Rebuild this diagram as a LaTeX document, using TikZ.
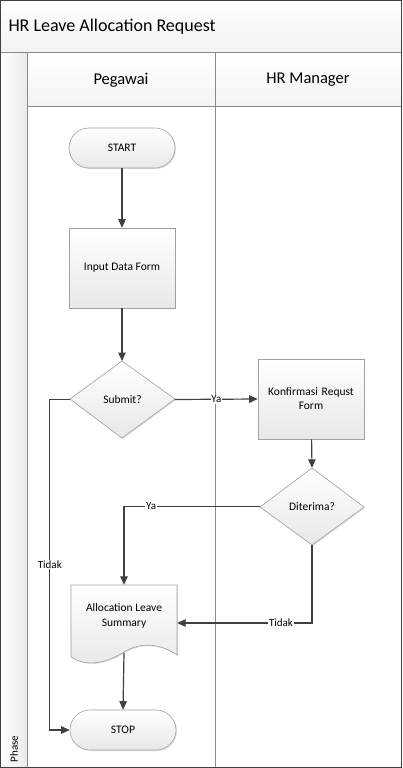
\documentclass[tikz,border=0pt]{standalone}
\usepackage{fontspec}
\setmainfont{Carlito}
\usetikzlibrary{arrows.meta,shadows}
\definecolor{lnc}{HTML}{404040}
\definecolor{lanec}{HTML}{8A8A8A}
\begin{document}
\begin{tikzpicture}[x=1pt,y=-1pt,
  nodebase/.style={draw=lanec!80, line width=0.6pt, top color=white, bottom color=gray!18,
    font=\fontsize{11.5}{14}\selectfont, align=center, inner sep=0pt,
    drop shadow={shadow xshift=1pt, shadow yshift=-1pt, opacity=0.25, fill=gray}},
  termbox/.style={nodebase, rounded corners=20pt, minimum width=106pt, minimum height=40pt},
  procbox/.style={nodebase, minimum width=106pt, minimum height=80pt},
  conn/.style={draw=lnc, line width=1.2pt, -{Triangle[length=8.5pt,width=7.5pt]}},
  lbl/.style={fill=white, inner sep=0.8pt, font=\fontsize{11}{13}\selectfont, text=black},
  hdr/.style={font=\fontsize{16.5}{19}\selectfont},
  txt/.style={font=\fontsize{11.5}{14}\selectfont, inner sep=0pt},
  lanel/.style={draw=lanec, line width=1pt}]
\useasboundingbox (0,0) rectangle (402,768);
% backgrounds
\shade[top color=white, bottom color=gray!10] (0,0) rectangle (402,53);
\shade[left color=white, right color=gray!16] (0,53) rectangle (27,768);
\shade[top color=white, bottom color=gray!9] (27,53) rectangle (402,106);
\fill[white] (27,106) rectangle (401,767);
% lane lines
\draw[lanel] (0,53) -- (402,53);
\draw[lanel] (27,106) -- (402,106);
\draw[lanel] (27,53) -- (27,768);
\draw[lanel] (215,53) -- (215,768);
\draw[draw=lnc, line width=1pt] (0.5,0.5) rectangle (401.5,767.5);
% headers
\node[font=\fontsize{18}{21}\selectfont, anchor=west] (title) at (5,27) {HR Leave Allocation Request};
\node[hdr] (h1) at (121,80) {Pegawai};
\node[hdr] (h2) at (308,80) {HR Manager};
\node[font=\fontsize{11}{13}\selectfont, rotate=90] (phase) at (14,749) {Phase};
% nodes
\node[termbox] (start) at (122,148) {START};
\node[procbox] (input) at (122,268) {Input Data Form};
\coordinate (sN) at (122,361);
\path[nodebase] (70,399) -- (122,361) -- (175,399) -- (122,438) -- cycle;
\node[txt, minimum width=105pt, minimum height=77pt] (submit) at (122.5,399.5) {Submit?};
\node[procbox, text width=100pt] (konf) at (311,399) {Konfirmasi Requst\\Form};
\path[nodebase] (260,507) -- (312,468) -- (364,507) -- (312,545) -- cycle;
\node[txt, minimum width=104pt, minimum height=77pt] (diter) at (312,506.5) {Diterima?};
\path[nodebase]
  (71,585) -- (177,585) -- (177,655) .. controls (160,643) and (140,642) .. (124,652)
  .. controls (108,662) and (88,668) .. (71,657) -- cycle;
\node[txt, minimum width=106pt, minimum height=76pt] (alloc) at (124,623) {};
\node[font=\fontsize{11.5}{15}\selectfont, align=center] (alloctext) at (124,615.5) {Allocation Leave\\Summary};
\coordinate (aB) at (124,653);
\node[termbox] (stop) at (123,730) {STOP};
% connectors
\draw[conn] (start) -- (input);
\draw[conn] (input) -- (sN);
\draw[conn] (submit.east) -- node[lbl, pos=0.5] {Ya} (konf.west);
\draw[conn] (konf) -- (diter.north);
\draw[conn] (diter.west) -| node[lbl, pos=0.4] {Ya} (alloc.north);
\draw[conn] (diter.south) |- node[lbl, pos=0.615] {Tidak} (alloc.east);
\draw[conn] (submit.west) -- ++(-20,0) |- node[lbl, pos=0.25] {Tidak} (stop.west);
\draw[conn] (aB) -- (stop.north);
\end{tikzpicture}
\end{document}
